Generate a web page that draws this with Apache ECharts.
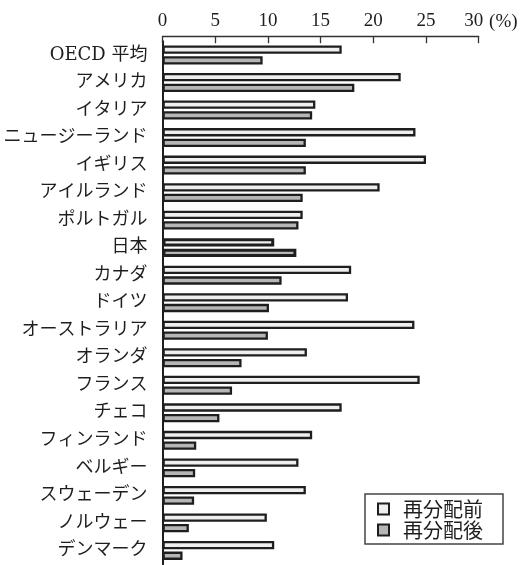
<!DOCTYPE html>
<html>
<head>
<meta charset="utf-8">
<script src="https://cdn.jsdelivr.net/npm/echarts@6/dist/echarts.min.js"></script>
<style>
  html, body { margin: 0; padding: 0; background: #fff; }
  #chart { width: 527px; height: 565px; }
</style>
</head>
<body>
<div id="chart"></div>
<script>
// Poverty rate before and after redistribution, by country (%)
const categories = [
  'OECD 平均', 'アメリカ', 'イタリア', 'ニュージーランド', 'イギリス',
  'アイルランド', 'ポルトガル', '日本', 'カナダ', 'ドイツ',
  'オーストラリア', 'オランダ', 'フランス', 'チェコ', 'フィンランド',
  'ベルギー', 'スウェーデン', 'ノルウェー', 'デンマーク'
];
const seriesNames = ['再分配前', '再分配後'];
const beforeValues = [17.0, 22.6, 14.5, 24.0, 25.0, 20.6, 13.3, 10.6, 17.9, 17.6, 23.9, 13.7, 24.4, 17.0, 14.2, 12.9, 13.6, 9.9, 10.6];
const afterValues  = [9.5, 18.2, 14.2, 13.6, 13.6, 13.3, 12.9, 12.7, 11.3, 10.1, 10.0, 7.5, 6.6, 5.4, 3.2, 3.1, 3.0, 2.5, 1.9];
const xTicks = [0, 5, 10, 15, 20, 25, 30];
const unitLabel = '(%)';
const highlighted = '日本';

const serifFont = "'Liberation Serif', 'Noto Sans CJK JP', serif";
const labelFont = "'DejaVu Serif', 'Noto Sans CJK JP', serif";
const jpFont = "'Noto Sans CJK JP', sans-serif";
const ink = '#1e1e1e';

function withHighlight(values) {
  return values.map((v, i) => categories[i] === highlighted
    ? { value: v, itemStyle: { borderWidth: 3 } }
    : v);
}

const chart = echarts.init(document.getElementById('chart'), null, { renderer: 'canvas' });

chart.setOption({
  animation: false,
  backgroundColor: '#fff',
  grid: { left: 162.5, right: 48.3, top: 41.2, bottom: 0.8, containLabel: false },
  xAxis: {
    type: 'value',
    position: 'top',
    offset: 5,
    min: xTicks[0],
    max: xTicks[xTicks.length - 1],
    interval: xTicks[1] - xTicks[0],
    axisLine: { show: true, lineStyle: { color: '#333', width: 1.3 } },
    axisTick: { show: true, inside: true, length: 7, lineStyle: { color: '#333', width: 1.3 } },
    splitLine: { show: false },
    axisLabel: {
      margin: 6,
      fontFamily: serifFont,
      fontSize: 19,
      color: ink,
      formatter: v => v === xTicks[xTicks.length - 1] ? '{r|' + v + '}' : String(v),
      rich: { r: { padding: [0, 10, 0, 0], fontFamily: serifFont, fontSize: 19, color: ink } }
    },
    name: unitLabel,
    nameLocation: 'end',
    nameGap: -2,
    nameTextStyle: { fontFamily: serifFont, fontSize: 19, color: ink, verticalAlign: 'bottom', padding: [0, 0, 5, 0] }
  },
  yAxis: {
    type: 'category',
    data: categories,
    inverse: true,
    axisLine: { show: true, lineStyle: { color: ink, width: 2 } },
    axisTick: { show: false },
    axisLabel: { margin: 15, fontFamily: labelFont, fontSize: 18, color: ink }
  },
  legend: {
    orient: 'vertical',
    left: 365,
    top: 494,
    padding: [5, 20, 4, 12],
    itemWidth: 11,
    itemHeight: 11,
    itemGap: 1,
    icon: 'rect',
    borderColor: '#444',
    borderWidth: 1.5,
    textStyle: { fontFamily: jpFont, fontSize: 20, lineHeight: 18, color: ink, padding: [0, 0, 0, 9] },
    data: seriesNames
  },
  series: [
    {
      name: seriesNames[0],
      type: 'bar',
      data: withHighlight(beforeValues),
      barWidth: 8.3,
      barGap: '28%',
      itemStyle: { color: '#efefef', borderColor: ink, borderWidth: 2.3 }
    },
    {
      name: seriesNames[1],
      type: 'bar',
      data: withHighlight(afterValues),
      barWidth: 8.3,
      barGap: '28%',
      itemStyle: { color: '#b6b6b6', borderColor: ink, borderWidth: 2.3 }
    }
  ]
});
</script>
</body>
</html>
